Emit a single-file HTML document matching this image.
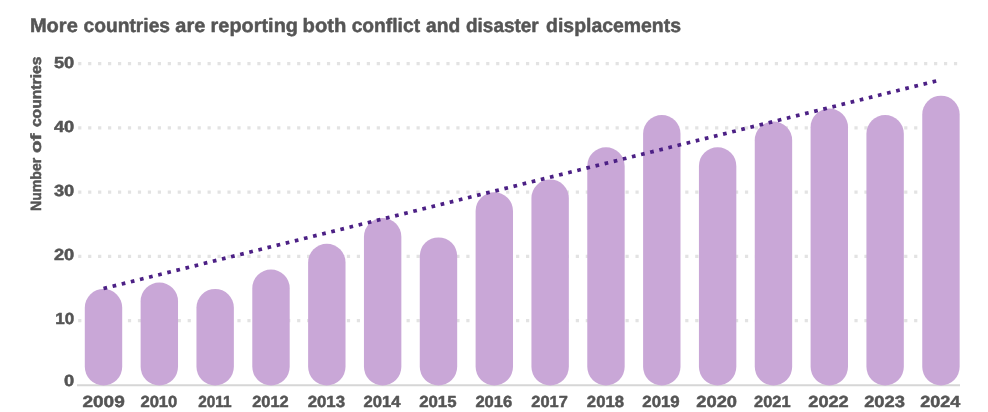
<!DOCTYPE html>
<html><head><meta charset="utf-8"><title>More countries are reporting both conflict and disaster displacements</title>
<style>
html,body{margin:0;padding:0;background:#fff;}
body{width:988px;height:412px;overflow:hidden;}
svg{display:block}
text{text-rendering:geometricPrecision;font-family:"Liberation Sans",Arial,sans-serif;font-weight:bold;fill:#555555;stroke:#555555;stroke-width:0.5px;stroke-linejoin:round;}
</style></head><body>
<svg width="988" height="412" viewBox="0 0 988 412">
<rect width="988" height="412" fill="#fff"/>
<text y="31.7" font-size="19.5"><tspan x="29.92" textLength="47.87" lengthAdjust="spacingAndGlyphs">More</tspan> <tspan x="83.54" textLength="86.54" lengthAdjust="spacingAndGlyphs">countries</tspan> <tspan x="175.36" textLength="29.93" lengthAdjust="spacingAndGlyphs">are</tspan> <tspan x="210.64" textLength="87.32" lengthAdjust="spacingAndGlyphs">reporting</tspan> <tspan x="302.61" textLength="43.78" lengthAdjust="spacingAndGlyphs">both</tspan> <tspan x="351.64" textLength="68.47" lengthAdjust="spacingAndGlyphs">conflict</tspan> <tspan x="426.07" textLength="34.14" lengthAdjust="spacingAndGlyphs">and</tspan> <tspan x="466.06" textLength="72.61" lengthAdjust="spacingAndGlyphs">disaster</tspan> <tspan x="546.08" textLength="134.94" lengthAdjust="spacingAndGlyphs">displacements</tspan></text>
<text transform="translate(41.0,211) rotate(-90)" font-size="14.8"><tspan x="0.00" textLength="53.30" lengthAdjust="spacingAndGlyphs">Number</tspan> <tspan x="57.90" textLength="19.50" lengthAdjust="spacingAndGlyphs">of</tspan> <tspan x="83.90" textLength="70.60" lengthAdjust="spacingAndGlyphs">countries</tspan></text>
<line x1="78.17" y1="320.55" x2="957.3" y2="320.55" stroke="#e3e3e3" stroke-width="3.2" stroke-dasharray="3.2 6.752"/>
<line x1="78.17" y1="256.33" x2="957.3" y2="256.33" stroke="#e3e3e3" stroke-width="3.2" stroke-dasharray="3.2 6.752"/>
<line x1="78.17" y1="192.11" x2="957.3" y2="192.11" stroke="#e3e3e3" stroke-width="3.2" stroke-dasharray="3.2 6.752"/>
<line x1="78.17" y1="127.89" x2="957.3" y2="127.89" stroke="#e3e3e3" stroke-width="3.2" stroke-dasharray="3.2 6.752"/>
<line x1="78.17" y1="63.67" x2="957.3" y2="63.67" stroke="#e3e3e3" stroke-width="3.2" stroke-dasharray="3.2 6.752"/>
<text x="74.2" y="385.72" font-size="16" text-anchor="end" textLength="10.15" lengthAdjust="spacingAndGlyphs">0</text>
<text x="74.2" y="324.40" font-size="16" text-anchor="end" textLength="18.9" lengthAdjust="spacingAndGlyphs">10</text>
<text x="74.2" y="260.18" font-size="16" text-anchor="end" textLength="20.3" lengthAdjust="spacingAndGlyphs">20</text>
<text x="74.2" y="195.96" font-size="16" text-anchor="end" textLength="20.3" lengthAdjust="spacingAndGlyphs">30</text>
<text x="74.2" y="131.74" font-size="16" text-anchor="end" textLength="20.3" lengthAdjust="spacingAndGlyphs">40</text>
<text x="74.2" y="67.52" font-size="16" text-anchor="end" textLength="20.3" lengthAdjust="spacingAndGlyphs">50</text>
<line x1="77" y1="385.2" x2="960" y2="385.2" stroke="#d6d6d6" stroke-width="2"/>
<rect x="84.80" y="288.90" width="37.4" height="96.60" rx="18.7" ry="18.7" fill="#c9a7d7"/>
<rect x="140.63" y="282.46" width="37.4" height="103.04" rx="18.7" ry="18.7" fill="#c9a7d7"/>
<rect x="196.46" y="288.90" width="37.4" height="96.60" rx="18.7" ry="18.7" fill="#c9a7d7"/>
<rect x="252.29" y="269.58" width="37.4" height="115.92" rx="18.7" ry="18.7" fill="#c9a7d7"/>
<rect x="308.12" y="243.82" width="37.4" height="141.68" rx="18.7" ry="18.7" fill="#c9a7d7"/>
<rect x="363.95" y="218.06" width="37.4" height="167.44" rx="18.7" ry="18.7" fill="#c9a7d7"/>
<rect x="419.78" y="237.38" width="37.4" height="148.12" rx="18.7" ry="18.7" fill="#c9a7d7"/>
<rect x="475.61" y="192.30" width="37.4" height="193.20" rx="18.7" ry="18.7" fill="#c9a7d7"/>
<rect x="531.44" y="179.42" width="37.4" height="206.08" rx="18.7" ry="18.7" fill="#c9a7d7"/>
<rect x="587.27" y="147.22" width="37.4" height="238.28" rx="18.7" ry="18.7" fill="#c9a7d7"/>
<rect x="643.10" y="115.02" width="37.4" height="270.48" rx="18.7" ry="18.7" fill="#c9a7d7"/>
<rect x="698.93" y="147.22" width="37.4" height="238.28" rx="18.7" ry="18.7" fill="#c9a7d7"/>
<rect x="754.76" y="121.46" width="37.4" height="264.04" rx="18.7" ry="18.7" fill="#c9a7d7"/>
<rect x="810.59" y="108.58" width="37.4" height="276.92" rx="18.7" ry="18.7" fill="#c9a7d7"/>
<rect x="866.42" y="115.02" width="37.4" height="270.48" rx="18.7" ry="18.7" fill="#c9a7d7"/>
<rect x="922.25" y="95.70" width="37.4" height="289.80" rx="18.7" ry="18.7" fill="#c9a7d7"/>
<text x="82.46" y="407.2" font-size="16" textLength="42.24" lengthAdjust="spacingAndGlyphs">2009</text>
<text x="140.42" y="407.2" font-size="16" textLength="36.93" lengthAdjust="spacingAndGlyphs">2010</text>
<text x="198.13" y="407.2" font-size="16" textLength="33.37" lengthAdjust="spacingAndGlyphs">2011</text>
<text x="252.19" y="407.2" font-size="16" textLength="36.47" lengthAdjust="spacingAndGlyphs">2012</text>
<text x="307.66" y="407.2" font-size="16" textLength="37.36" lengthAdjust="spacingAndGlyphs">2013</text>
<text x="363.41" y="407.2" font-size="16" textLength="36.99" lengthAdjust="spacingAndGlyphs">2014</text>
<text x="419.16" y="407.2" font-size="16" textLength="37.30" lengthAdjust="spacingAndGlyphs">2015</text>
<text x="475.43" y="407.2" font-size="16" textLength="36.78" lengthAdjust="spacingAndGlyphs">2016</text>
<text x="531.37" y="407.2" font-size="16" textLength="36.39" lengthAdjust="spacingAndGlyphs">2017</text>
<text x="586.89" y="407.2" font-size="16" textLength="37.02" lengthAdjust="spacingAndGlyphs">2018</text>
<text x="642.36" y="407.2" font-size="16" textLength="37.32" lengthAdjust="spacingAndGlyphs">2019</text>
<text x="696.36" y="407.2" font-size="16" textLength="40.65" lengthAdjust="spacingAndGlyphs">2020</text>
<text x="754.07" y="407.2" font-size="16" textLength="36.46" lengthAdjust="spacingAndGlyphs">2021</text>
<text x="808.33" y="407.2" font-size="16" textLength="40.35" lengthAdjust="spacingAndGlyphs">2022</text>
<text x="864.16" y="407.2" font-size="16" textLength="40.69" lengthAdjust="spacingAndGlyphs">2023</text>
<text x="920.16" y="407.2" font-size="16" textLength="40.02" lengthAdjust="spacingAndGlyphs">2024</text>
<line x1="103.5" y1="288.55" x2="936.2" y2="80.95" stroke="#4c2085" stroke-width="3.7" stroke-dasharray="3.7 5.69"/>
</svg></body></html>
